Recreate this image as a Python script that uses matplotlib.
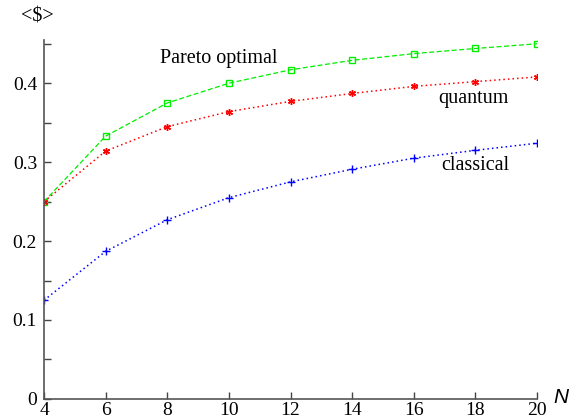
import matplotlib.pyplot as plt
import numpy as np

N = [4, 6, 8, 10, 12, 14, 16, 18, 20]
pareto = [0.25, 0.333, 0.375, 0.400, 0.417, 0.429, 0.4375, 0.444, 0.450]
quantum = [0.25, 0.314, 0.345, 0.364, 0.377, 0.387, 0.396, 0.402, 0.408]
classical = [0.125, 0.187, 0.227, 0.255, 0.275, 0.291, 0.305, 0.315, 0.324]

plt.rcParams['font.family'] = ['Liberation Serif', 'DejaVu Serif']

fig = plt.figure(figsize=(5.72, 4.19), dpi=100)
ax = fig.add_axes([0.077, 0.048, 0.862, 0.857])

ax.plot(N, pareto, color='#00ee00', ls=(0, (4, 2)), lw=0.9,
        marker='s', mfc='none', mec='#00ee00', ms=5, mew=1)
ax.plot(N, quantum, color='#ff0000', ls=(0, (1, 2)), lw=1.1,
        marker=(6, 2, 0), ms=5, mew=1)
ax.plot(N, classical, color='#0000ff', ls=(0, (1, 2)), lw=1.1,
        marker='+', ms=5.5, mew=1)

ax.set_xlim(4, 20)
ax.set_ylim(0, 0.455)
ax.set_xticks(N)
ax.set_yticks([0, 0.1, 0.2, 0.3, 0.4])
ax.set_yticklabels(['0', '0.1', '0.2', '0.3', '0.4'])
ax.set_yticks([0.05, 0.15, 0.25, 0.35, 0.45], minor=True)
ax.tick_params(direction='in', labelsize=14, length=5, color='#444444', width=1)
ax.tick_params(which='minor', direction='in', length=5, color='#444444', width=1)
ax.tick_params(axis='x', pad=2)
ax.tick_params(axis='y', pad=5)

for s in ['top', 'right']:
    ax.spines[s].set_visible(False)
for s in ['left', 'bottom']:
    ax.spines[s].set_color('#555555')
    ax.spines[s].set_linewidth(1.2)

ax.text(7.75, 0.431, 'Pareto optimal', fontsize=14.5, va='center')
ax.text(16.8, 0.381, 'quantum', fontsize=14.5, va='center')
ax.text(16.9, 0.296, 'classical', fontsize=14.5, va='center')

fig.text(0.066, 0.96, '<$>', fontsize=14.5, ha='center', va='center')
fig.text(0.98, 0.052, 'N', fontsize=15, ha='center', va='center',
         family='Liberation Sans', style='italic')

fig.savefig('out.png', dpi=100)
